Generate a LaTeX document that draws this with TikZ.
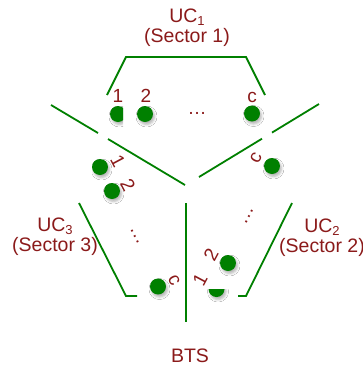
\documentclass[tikz,border=0pt]{standalone}
\usepackage{fontspec}
\setmainfont{Liberation Sans}
\usetikzlibrary{shadows.blur}
\definecolor{cgreen}{RGB}{0,128,0}
\definecolor{cred}{RGB}{139,26,26}
\newcommand{\sub}[1]{{\fontsize{13}{13}\selectfont\raisebox{-3pt}[\height][0pt]{#1}}}
\begin{document}
\begin{tikzpicture}[x=1pt,y=-1pt,
  wire/.style={draw=cgreen,line width=1.8pt},
  ue/.style={circle,fill=cgreen,minimum size=16pt,inner sep=0pt,
    blur shadow={shadow xshift=1.5pt,shadow yshift=-2.5pt,shadow blur radius=2.5pt,shadow opacity=30}},
  lab/.style={text=cred,font=\fontsize{19.5}{20}\selectfont,inner sep=0pt,align=center},
  num/.style={text=cred,font=\fontsize{19}{21}\selectfont,inner sep=0pt}]
\useasboundingbox[fill=white] (0,0) rectangle (363,365);
\clip (0,0) rectangle (363,365);
% boundaries
\draw[wire] (107,95) -- (126,57) -- (246,57) -- (265,95);
\draw[wire] (51,105) -- (98,133);
\draw[wire] (108,139) -- (185,185);
\draw[wire] (319,104) -- (272,132.6);
\draw[wire] (262,138.7) -- (199,177);
\draw[wire] (186,203) -- (186,322);
\draw[wire] (79,203) -- (126,296) -- (137,296);
\draw[wire] (292,203) -- (246,296) -- (238,296);
% sector 1 users
\begin{scope}
\clip (100,90) rectangle (123,140);
\node[ue] (a1) at (118,114) {};
\end{scope}
\node[ue] (a2) at (145,114) {};
\node[ue] (ac) at (252,113.5) {};
\node[num] (la1) at (118,95.5) {1};
\node[num] (la2) at (146,95.5) {2};
\node[num] (lac) at (252,97.5) {c};
\node[num,anchor=base] (ea) at (197,114.5) {…};
% sector 3 users
\begin{scope}
\clip (92,150) rectangle (130,185);
\node[ue] (b1) at (100,167) {};
\end{scope}
\node[ue] (b2) at (112,191) {};
\node[ue] (bc) at (158,286.5) {};
\node[num,rotate=-62] (lb1) at (118,161) {1};
\node[num,rotate=-62] (lb2) at (128,185) {2};
\node[num,rotate=-62] (lbc) at (174,280) {c};
\node[num,anchor=base,rotate=-63] (eb) at (134,237) {…};
% sector 2 users
\begin{scope}
\clip (200,289) rectangle (240,310);
\node[ue] (c1) at (216.5,289) {};
\end{scope}
\node[ue] (c2) at (228,263) {};
\node[ue] (cc) at (272,166) {};
\node[num,rotate=62] (lc1) at (200,280) {1};
\node[num,rotate=62] (lc2) at (211,255) {2};
\node[num,rotate=62] (lcc) at (256,158) {c};
\node[num,anchor=base,rotate=63] (ec) at (250,217) {…};
% labels
\node[lab,anchor=base] (uc1) at (187,42) {UC\sub{1}\\(Sector 1)};
\node[lab,anchor=base] (uc3) at (55,251) {UC\sub{3}\\(Sector 3)};
\node[lab,anchor=base] (uc2) at (322,252) {UC\sub{2}\\(Sector 2)};
\node[lab,anchor=base] (bts) at (190,362) {BTS};
\end{tikzpicture}
\end{document}
